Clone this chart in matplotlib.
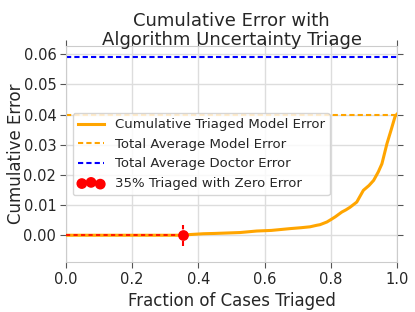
import numpy as np
import matplotlib.pyplot as plt

# values
frac = [0.0, 0.352, 0.37, 0.415, 0.45, 0.526, 0.576, 0.62, 0.677, 0.71, 0.737, 0.757,
        0.767, 0.788, 0.80, 0.813, 0.833, 0.845, 0.858, 0.878, 0.898, 0.915, 0.929,
        0.943, 0.954, 0.969, 0.982, 0.994, 1.0]
cum_err = [0.0, 0.0, 0.0002, 0.0005, 0.0006, 0.0009, 0.0014, 0.0016, 0.0022, 0.0025,
           0.0028, 0.0033, 0.0035, 0.0044, 0.0052, 0.0061, 0.0077, 0.0084, 0.0093,
           0.0110, 0.0149, 0.0165, 0.0182, 0.0210, 0.0237, 0.0303, 0.0350, 0.0395, 0.0402]
model_err = 0.040
doctor_err = 0.059
zero_frac = 0.352

plt.rcParams['font.family'] = 'DejaVu Sans'
plt.rcParams['legend.scatterpoints'] = 3

fig = plt.figure(figsize=(4.15, 3.12), dpi=100)
ax = fig.add_axes([0.159, 0.160, 0.798, 0.692])

ax.plot(frac, cum_err, color='orange', lw=2.2, label='Cumulative Triaged Model Error', zorder=3)
ax.axhline(model_err, color='orange', ls='--', dashes=(2.5, 1.5), lw=1.5,
           label='Total Average Model Error')
ax.axhline(doctor_err, color='blue', ls='--', dashes=(2.5, 1.5), lw=1.5,
           label='Total Average Doctor Error')
ax.plot([0, zero_frac], [0, 0], color='red', ls='--', dashes=(2.5, 2), lw=1.2, zorder=4)
ax.vlines(zero_frac, -0.0035, 0.0035, colors='red', linestyles=(0, (2.5, 1.5)), lw=1.5, zorder=4)
ax.scatter([zero_frac], [0], color='red', s=45, zorder=5, label='35% Triaged with Zero Error')

ax.set_xlim(0, 1.0)
ax.set_ylim(-0.0089, 0.0627)
ax.set_xticks(np.arange(0, 1.01, 0.2))
ax.set_yticks(np.arange(0, 0.061, 0.01))
ax.grid(True, color='#dddddd', lw=1)
ax.set_axisbelow(True)
for s in ax.spines.values():
    s.set_color('#cccccc')
ax.tick_params(direction='out', top=True, right=True, labeltop=False, labelright=False,
               color='#555555', labelcolor='#262626', labelsize=10.5, length=4, pad=3)

ax.set_xlabel('Fraction of Cases Triaged', fontsize=12, color='#262626')
ax.set_ylabel('Cumulative Error', fontsize=12, color='#262626')
ax.yaxis.set_label_coords(-0.125, 0.5)
ax.set_title('Cumulative Error with\nAlgorithm Uncertainty Triage', fontsize=13,
             color='#262626', linespacing=1.05, pad=1)

leg = ax.legend(loc='center left', fontsize=9.5, frameon=True)
leg.get_frame().set_edgecolor('#cccccc')
for t in leg.get_texts():
    t.set_color('#262626')

fig.savefig('out.png', dpi=100)
